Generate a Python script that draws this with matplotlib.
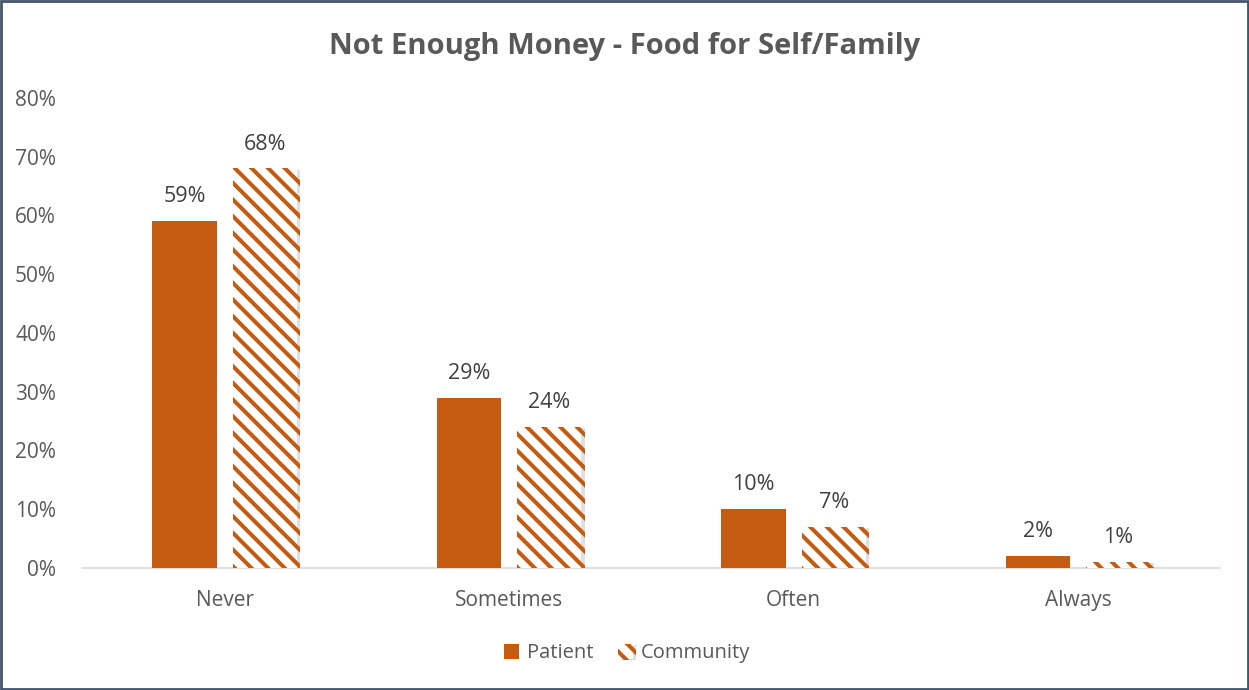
import matplotlib
matplotlib.use("Agg")
import matplotlib.pyplot as plt
import matplotlib.patheffects as pe
import numpy as np

categories = ["Never", "Sometimes", "Often", "Always"]
patient = [59, 29, 10, 2]
community = [68, 24, 7, 1]
series_names = ["Patient", "Community"]
title = "Not Enough Money - Food for Self/Family"

orange = "#C55A11"
text_gray = "#595959"
label_gray = "#404040"

plt.rcParams["font.family"] = ["Open Sans", "DejaVu Sans"]
plt.rcParams["hatch.linewidth"] = 2.9
plt.rcParams["hatch.color"] = orange

fig = plt.figure(figsize=(12.49, 6.90), dpi=100)
ax = fig.add_axes([0.066, 0.177, 0.911, 0.681])

x = np.arange(len(categories))
width = 0.226
offset = 0.141

b1 = ax.bar(x - offset, patient, width, color=orange, label=series_names[0], zorder=3)
b2 = ax.bar(x + offset, community, width, facecolor="white", edgecolor=orange,
            linewidth=0, hatch="\\\\", label=series_names[1], zorder=3)
for r in b2:
    r.set_path_effects([pe.SimplePatchShadow(offset=(2.5, -1), shadow_rgbFace="#000000", alpha=0.12),
                        pe.Normal()])

for rect, v in zip(b1, patient):
    ax.annotate(f"{v}%", (rect.get_x() + rect.get_width() / 2, v), xytext=(0, 10),
                textcoords="offset points", ha="center", va="bottom", fontsize=15.5, color=label_gray)
for rect, v in zip(b2, community):
    ax.annotate(f"{v}%", (rect.get_x() + rect.get_width() / 2, v), xytext=(0, 10),
                textcoords="offset points", ha="center", va="bottom", fontsize=15.5, color=label_gray)

ax.set_xlim(-0.5, len(categories) - 0.5)
ax.set_ylim(0, 80)
ax.set_yticks(np.arange(0, 81, 10))
ax.set_yticklabels([f"{t}%" for t in range(0, 81, 10)])
ax.set_xticks(x)
ax.set_xticklabels(categories)
ax.tick_params(axis="both", length=0, labelsize=15, labelcolor=text_gray)
ax.tick_params(axis="x", pad=16)
ax.tick_params(axis="y", pad=19)
for s in ["top", "right", "left"]:
    ax.spines[s].set_visible(False)
ax.spines["bottom"].set_color("#D9D9D9")
ax.spines["bottom"].set_linewidth(1.2)

fig.text(0.5, 0.933, title, ha="center", va="center", fontsize=21, fontweight="bold", color=text_gray)

leg = fig.legend(handles=[b1, b2], labels=series_names, loc="center", bbox_to_anchor=(0.502, 0.053),
                 ncol=2, frameon=False, fontsize=14.5, handlelength=0.75, handleheight=0.75,
                 handletextpad=0.4, columnspacing=1.2)
for t in leg.get_texts():
    t.set_color(text_gray)

fig.patches.append(plt.Rectangle((0.001, 0.001), 0.998, 0.997, transform=fig.transFigure,
                                 fill=False, edgecolor="#44546A", linewidth=2))

fig.savefig("out.png", dpi=100)
